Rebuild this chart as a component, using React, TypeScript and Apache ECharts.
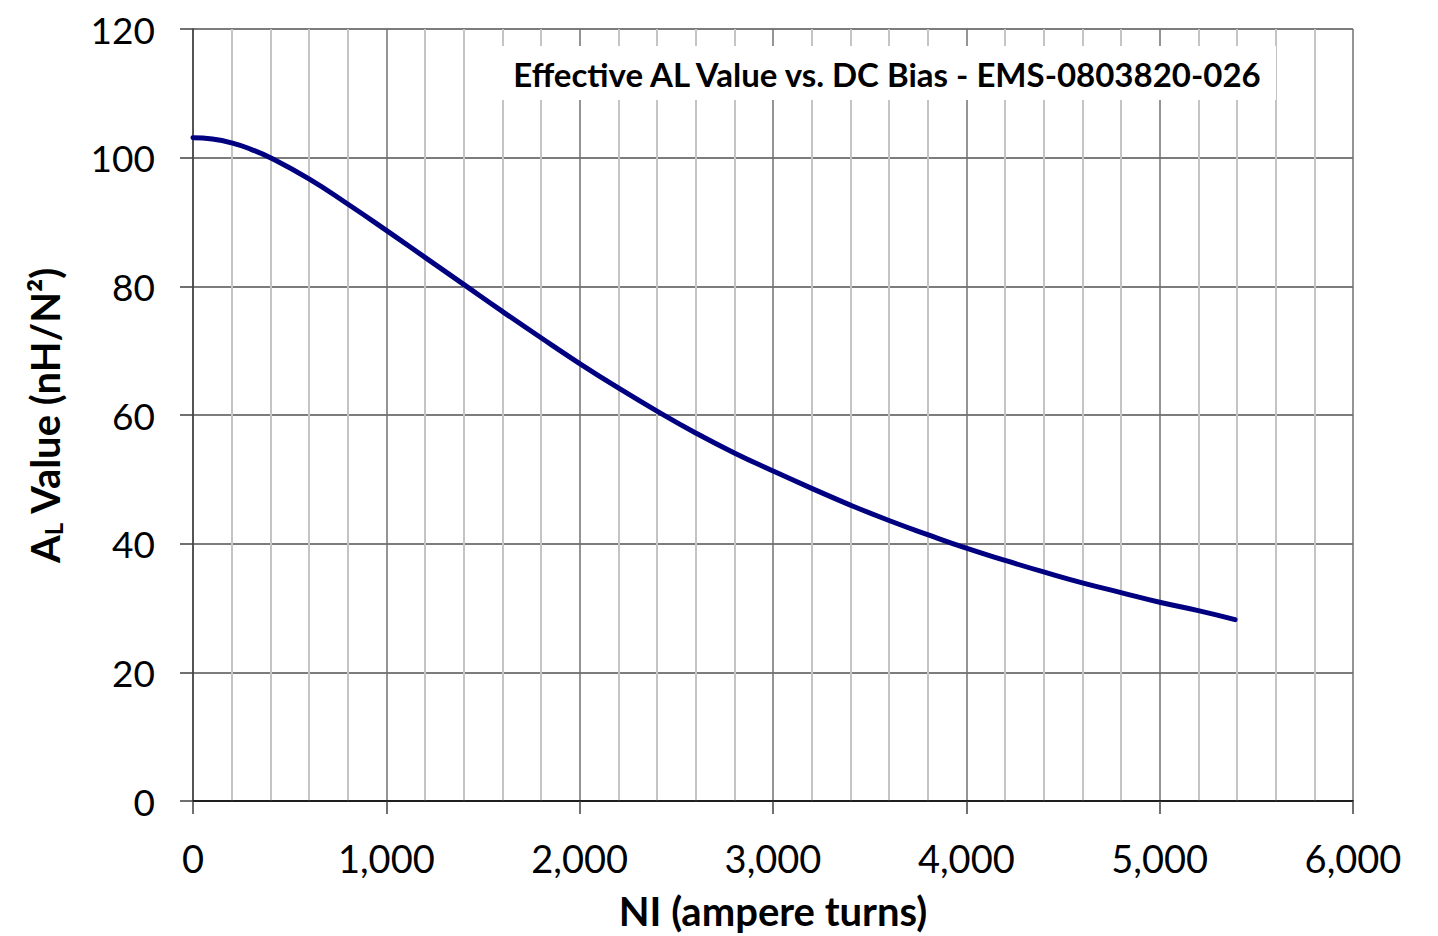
import React, { useEffect, useRef } from "react";
import * as echarts from "echarts";

const niValues = [0, 100, 200, 300, 400, 600, 800, 1000, 1200, 1400, 1600, 1800, 2000, 2200, 2400, 2600, 2800, 3000, 3200, 3400, 3600, 3800, 4000, 4200, 4400, 4600, 4800, 5000, 5200, 5390];
const alValues = [103.1, 102.9, 102.3, 101.3, 100.0, 96.7, 92.8, 88.7, 84.5, 80.3, 76.1, 72.0, 68.0, 64.2, 60.6, 57.2, 54.1, 51.3, 48.6, 46.0, 43.6, 41.4, 39.3, 37.4, 35.6, 33.9, 32.4, 30.9, 29.6, 28.2];
const xTicks = { min: 0, max: 6000, interval: 1000 };
const yTicks = { min: 0, max: 120, interval: 20 };
const chartTitle = "Effective AL Value vs. DC Bias - EMS-0803820-026";
const xName = "NI (ampere turns)";

const FONT = "Lato, 'Open Sans', sans-serif";

export default function App() {
  const ref = useRef<HTMLDivElement>(null);
  useEffect(() => {
    document.body.style.margin = "0";
    if (!ref.current) return;
    const chart = echarts.init(ref.current, null, { renderer: "svg" });
    chart.setOption({
      animation: false,
      backgroundColor: "#ffffff",
      textStyle: { fontFamily: FONT },
      grid: { left: 193, top: 29, right: 85, bottom: 127, containLabel: false },
      xAxis: {
        type: "value",
        min: xTicks.min,
        max: xTicks.max,
        interval: xTicks.interval,
        name: xName,
        nameLocation: "middle",
        nameGap: 90,
        nameTextStyle: { fontFamily: FONT, fontWeight: "bold", fontSize: 40, color: "#000" },
        axisLine: { show: true, lineStyle: { color: "#000", width: 1.5 } },
        axisTick: { show: true, length: 13, lineStyle: { color: "#404040", width: 1.5 } },
        axisLabel: {
          fontFamily: FONT,
          fontSize: 38,
          color: "#000",
          margin: 38,
          formatter: (v: number) => v.toLocaleString("en-US"),
        },
        splitLine: { show: true, lineStyle: { color: "#707070", width: 1.5 } },
        minorTick: { show: false, splitNumber: 5 },
        minorSplitLine: { show: true, lineStyle: { color: "#c4c4c4", width: 2 } },
      },
      yAxis: {
        type: "value",
        min: yTicks.min,
        max: yTicks.max,
        interval: yTicks.interval,
        name: "{a|A}{s|L}{a| Value (nH/N²)}",
        nameLocation: "middle",
        nameGap: 128,
        nameRotate: 90,
        nameTextStyle: {
          rich: {
            a: { fontFamily: FONT, fontWeight: "bold", fontSize: 40, color: "#000" },
            s: { fontFamily: FONT, fontWeight: "bold", fontSize: 24, color: "#000", verticalAlign: "bottom", padding: [16, 0, 0, 0] },
          },
        },
        axisLine: { show: true, lineStyle: { color: "#404040", width: 1.5 } },
        axisTick: { show: true, length: 13, lineStyle: { color: "#404040", width: 1.5 } },
        axisLabel: { fontFamily: FONT, fontSize: 37, color: "#000", margin: 38 },
        splitLine: { show: true, lineStyle: { color: "#505050", width: 1.5 } },
      },
      graphic: [
        {
          type: "group",
          z: 10,
          children: [
            { type: "rect", shape: { x: 499, y: 46, width: 777, height: 54 }, style: { fill: "#ffffff" }, z: 10 },
            {
              type: "text",
              x: 887,
              y: 74,
              z: 11,
              style: {
                text: chartTitle,
                fontFamily: FONT,
                fontWeight: "bold",
                fontSize: 33,
                fill: "#000",
                align: "center",
                verticalAlign: "middle",
              },
            },
          ],
        },
      ],
      series: [
        {
          type: "line",
          data: niValues.map((x, i) => [x, alValues[i]]),
          smooth: 0.5,
          showSymbol: false,
          symbol: "none",
          lineStyle: { color: "#000080", width: 5, cap: "round" },
          z: 5,
        },
      ],
    });
    return () => chart.dispose();
  }, []);
  return <div ref={ref} style={{ width: 1438, height: 936 }} />;
}
